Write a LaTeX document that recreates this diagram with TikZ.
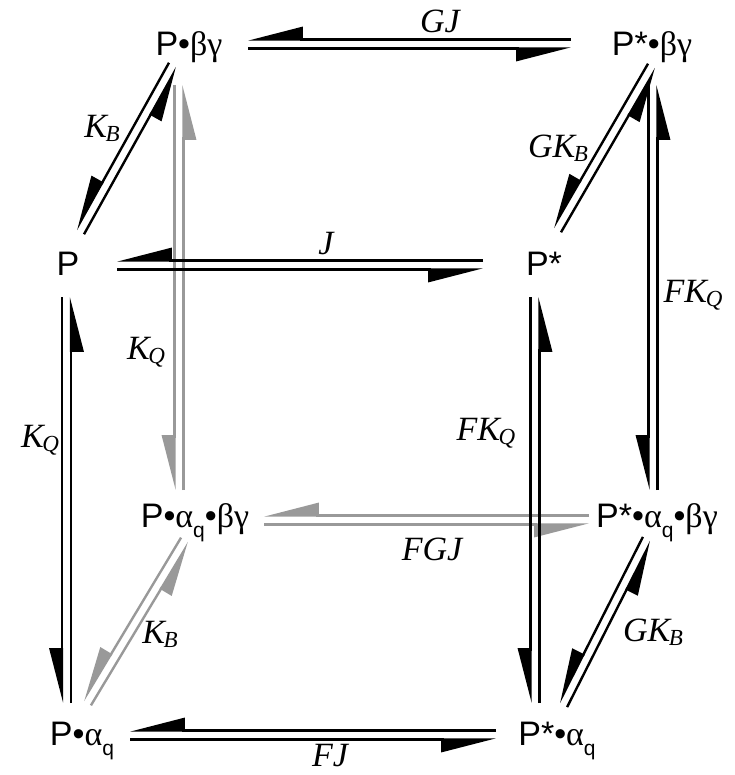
\documentclass[tikz,border=0pt]{standalone}
\usepackage{fontspec}
\setmainfont{Liberation Serif}
\setsansfont{Liberation Sans}
\newfontfamily\grk{Liberation Serif}
\usetikzlibrary{arrows.meta,calc}
\newcommand\eqoff{4.6pt}
\newcommand\eqpair[3][black]{%
  \draw[harp,color=#1] ($(#2)!\eqoff!-90:(#3)$) -- ($(#3)!\eqoff!90:(#2)$);
  \draw[harp,color=#1] ($(#3)!\eqoff!-90:(#2)$) -- ($(#2)!\eqoff!90:(#3)$);}
\newcommand\bul{\textbullet}
\newcommand\gk[1]{{\grk #1}}
\newcommand\sq{\raisebox{-0.3em}{\fontsize{21}{21}\selectfont q}}
\newcommand\lsub[1]{\kern-0.04em\raisebox{-0.12em}{\fontsize{23}{23}\selectfont\itshape #1}}
\begin{document}
\begin{tikzpicture}[x=1pt,y=-1pt,
  sp/.style={font=\sffamily\fontsize{34}{34}\selectfont, inner sep=0pt, anchor=base},
  lb/.style={font=\itshape\fontsize{34}{34}\selectfont, inner sep=0pt},
  harp/.style={line width=2.4pt, -{Triangle[right,length=50pt,width=25pt]}}]
\useasboundingbox (0,0) rectangle (734,775);
% nodes
\node[sp] (pbg) at (189,56) {P\bul\gk{βγ}};
\node[sp] (psbg) at (652,56) {P*\bul\gk{βγ}};
\node[sp] (p) at (68,276) {P};
\node[sp] (ps) at (544,276) {P*};
\node[sp] (pabg) at (195,527) {P\bul\gk{α}\sq\bul\gk{βγ}};
\node[sp] (psabg) at (657,527) {P*\bul\gk{α}\sq\bul\gk{βγ}};
\node[sp] (pa) at (82,745) {P\bul\gk{α}\sq};
\node[sp] (psa) at (557,745) {P*\bul\gk{α}\sq};
% connector end points
\coordinate (gjA) at (248,44);   \coordinate (gjB) at (571,44);
\coordinate (jA) at (117,265);   \coordinate (jB) at (483,265);
\coordinate (fgjA) at (264,520); \coordinate (fgjB) at (589,520);
\coordinate (fjA) at (130,735);  \coordinate (fjB) at (496,735);
\coordinate (kqA) at (66.5,297); \coordinate (kqB) at (66.5,703);
\coordinate (fkqA) at (535,297); \coordinate (fkqB) at (535,703);
\coordinate (rkqA) at (653,85);  \coordinate (rkqB) at (653,490);
\coordinate (gkqA) at (179,85);  \coordinate (gkqB) at (179,490);
\coordinate (kbA) at (173,65);   \coordinate (kbB) at (80,232);
\coordinate (gkbA) at (652,66);  \coordinate (gkbB) at (557,230);
\coordinate (kbbA) at (185,540); \coordinate (kbbB) at (87,703);
\coordinate (gkbbA) at (647,539);\coordinate (gkbbB) at (563,705);
% gray connectors (behind)
\eqpair[gray!80]{gkqA}{gkqB}
\eqpair[gray!80]{fgjA}{fgjB}
\eqpair[gray!80]{kbbA}{kbbB}
% black connectors
\eqpair{gjA}{gjB}
\eqpair{jA}{jB}
\eqpair{fjA}{fjB}
\eqpair{kqA}{kqB}
\eqpair{fkqA}{fkqB}
\eqpair{rkqA}{rkqB}
\eqpair{kbA}{kbB}
\eqpair{gkbA}{gkbB}
\eqpair{gkbbA}{gkbbB}
% labels
\node[lb] (lgj) at (440,21) {GJ};
\node[lb] (lj) at (326,244) {J};
\node[lb] (lkb) at (102,128) {K\lsub{B}};
\node[lb] (lgkb) at (558,148) {GK\lsub{B}};
\node[lb] (lrfkq) at (693,295) {FK\lsub{Q}};
\node[lb] (lgkq) at (146,352) {K\lsub{Q}};
\node[lb] (lkq) at (40,440) {K\lsub{Q}};
\node[lb] (lfkq) at (486,433) {FK\lsub{Q}};
\node[lb] (lfgj) at (432,549) {FGJ};
\node[lb] (lkbb) at (160,634) {K\lsub{B}};
\node[lb] (lgkbb) at (653,632) {GK\lsub{B}};
\node[lb] (lfj) at (330,756) {FJ};
\end{tikzpicture}
\end{document}
